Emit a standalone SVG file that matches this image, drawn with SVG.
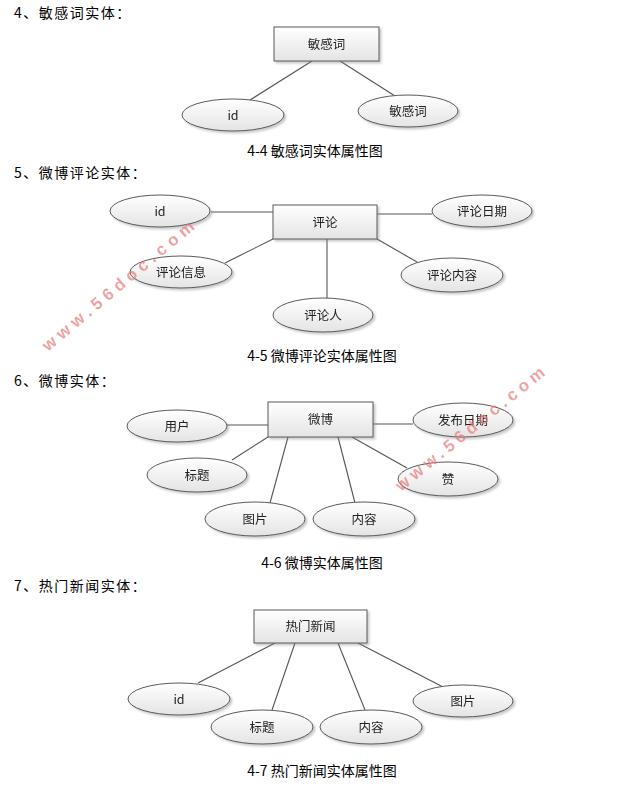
<svg xmlns="http://www.w3.org/2000/svg" width="618" height="790" viewBox="0 0 618 790">
<style>
.bg{fill:#ffffff}
.ent{fill:url(#gr);stroke:#5a5a5a;stroke-width:1}
.att{fill:url(#gr);stroke:#5a5a5a;stroke-width:1}
.lbl{font-family:"Noto Sans CJK SC","Liberation Sans",sans-serif;font-size:12.5px;fill:#222;text-anchor:middle}
.ttl{font-family:"Noto Sans CJK SC","Liberation Sans",sans-serif;font-size:14px;fill:#000;letter-spacing:1.5px}
.cap{font-family:"Noto Sans CJK SC","Liberation Sans",sans-serif;font-size:14px;fill:#000;text-anchor:middle}
.con line{stroke:#555;stroke-width:1.1}
.wm{font-family:"Liberation Sans",sans-serif;font-weight:bold;font-size:17px;fill:#e87b7b;opacity:0.7}
</style>
<defs>
<linearGradient id="gr" x1="0" y1="0" x2="0" y2="1">
<stop offset="0" stop-color="#ffffff"/>
<stop offset="1" stop-color="#e4e4e4"/>
</linearGradient>
<filter id="sh" x="-10%" y="-10%" width="130%" height="140%">
<feDropShadow dx="2" dy="2" stdDeviation="1.2" flood-color="#888" flood-opacity="0.45"/>
</filter>
</defs>
<rect class="bg" x="0" y="0" width="618" height="790"/>

<!-- titles and captions -->
<text class="ttl" x="14" y="18">4、敏感词实体：</text>
<text class="cap" x="315" y="156">4-4 敏感词实体属性图</text>
<text class="ttl" x="14" y="178">5、微博评论实体：</text>
<text class="cap" x="322" y="361">4-5 微博评论实体属性图</text>
<text class="ttl" x="14" y="386">6、微博实体：</text>
<text class="cap" x="322" y="568">4-6 微博实体属性图</text>
<text class="ttl" x="14" y="591">7、热门新闻实体：</text>
<text class="cap" x="322" y="776">4-7 热门新闻实体属性图</text>

<!-- connectors -->
<g id="connectors" class="con">
<line x1="312" y1="61" x2="250" y2="100"/>
<line x1="340" y1="61" x2="395" y2="96"/>

<line x1="211" y1="212" x2="273" y2="212"/>
<line x1="377" y1="214" x2="432" y2="214"/>
<line x1="273" y1="239" x2="225" y2="263"/>
<line x1="377" y1="239" x2="417" y2="262"/>
<line x1="327" y1="239" x2="327" y2="298"/>

<line x1="227" y1="425" x2="268" y2="425"/>
<line x1="373" y1="424" x2="413" y2="424"/>
<line x1="268" y1="437" x2="232" y2="460"/>
<line x1="288" y1="437" x2="270" y2="503"/>
<line x1="338" y1="437" x2="355" y2="503"/>
<line x1="352" y1="437" x2="407" y2="468"/>

<line x1="275" y1="643" x2="198" y2="683"/>
<line x1="295" y1="643" x2="272" y2="710"/>
<line x1="338" y1="643" x2="365" y2="710"/>
<line x1="358" y1="643" x2="443" y2="687"/>
</g>

<!-- diagram 4-4 -->
<g id="e_mgc" filter="url(#sh)"><rect class="ent" x="274" y="27" width="105" height="34"/><text class="lbl" x="326.5" y="48.5">敏感词</text></g>
<g id="a_mgc_id" filter="url(#sh)"><ellipse class="att" cx="233" cy="115" rx="51" ry="16"/><text class="lbl" x="233" y="119.5">id</text></g>
<g id="a_mgc_word" filter="url(#sh)"><ellipse class="att" cx="408" cy="111" rx="50" ry="16"/><text class="lbl" x="408" y="115.5">敏感词</text></g>

<!-- diagram 4-5 -->
<g id="e_pl" filter="url(#sh)"><rect class="ent" x="273" y="205" width="104" height="34"/><text class="lbl" x="325" y="226.5">评论</text></g>
<g id="a_pl_id" filter="url(#sh)"><ellipse class="att" cx="160" cy="211" rx="50" ry="16"/><text class="lbl" x="160" y="215.5">id</text></g>
<g id="a_pl_date" filter="url(#sh)"><ellipse class="att" cx="482" cy="211" rx="50" ry="16"/><text class="lbl" x="482" y="215.5">评论日期</text></g>
<g id="a_pl_info" filter="url(#sh)"><ellipse class="att" cx="181" cy="272" rx="51" ry="16"/><text class="lbl" x="181" y="276.5">评论信息</text></g>
<g id="a_pl_content" filter="url(#sh)"><ellipse class="att" cx="452" cy="275" rx="51" ry="17"/><text class="lbl" x="452" y="279.5">评论内容</text></g>
<g id="a_pl_user" filter="url(#sh)"><ellipse class="att" cx="323" cy="315" rx="50" ry="17"/><text class="lbl" x="323" y="319.5">评论人</text></g>

<!-- diagram 4-6 -->
<g id="e_wb" filter="url(#sh)"><rect class="ent" x="268" y="402" width="105" height="35"/><text class="lbl" x="320.5" y="424">微博</text></g>
<g id="a_wb_user" filter="url(#sh)"><ellipse class="att" cx="177" cy="426" rx="50" ry="16"/><text class="lbl" x="177" y="430.5">用户</text></g>
<g id="a_wb_date" filter="url(#sh)"><ellipse class="att" cx="463" cy="420" rx="50" ry="17"/><text class="lbl" x="463" y="424.5">发布日期</text></g>
<g id="a_wb_title" filter="url(#sh)"><ellipse class="att" cx="197" cy="475" rx="50" ry="17"/><text class="lbl" x="197" y="479.5">标题</text></g>
<g id="a_wb_like" filter="url(#sh)"><ellipse class="att" cx="448" cy="479" rx="50" ry="17"/><text class="lbl" x="448" y="483.5">赞</text></g>
<g id="a_wb_pic" filter="url(#sh)"><ellipse class="att" cx="255" cy="519" rx="50" ry="17"/><text class="lbl" x="255" y="523.5">图片</text></g>
<g id="a_wb_content" filter="url(#sh)"><ellipse class="att" cx="364" cy="519" rx="51" ry="17"/><text class="lbl" x="364" y="523.5">内容</text></g>

<!-- diagram 4-7 -->
<g id="e_news" filter="url(#sh)"><rect class="ent" x="254" y="610" width="113" height="33"/><text class="lbl" x="310.5" y="631">热门新闻</text></g>
<g id="a_news_id" filter="url(#sh)"><ellipse class="att" cx="179" cy="699" rx="51" ry="16"/><text class="lbl" x="179" y="703.5">id</text></g>
<g id="a_news_title" filter="url(#sh)"><ellipse class="att" cx="262" cy="727" rx="51" ry="17"/><text class="lbl" x="262" y="731.5">标题</text></g>
<g id="a_news_content" filter="url(#sh)"><ellipse class="att" cx="371" cy="727" rx="51" ry="17"/><text class="lbl" x="371" y="731.5">内容</text></g>
<g id="a_news_pic" filter="url(#sh)"><ellipse class="att" cx="463" cy="701" rx="50" ry="16"/><text class="lbl" x="463" y="705.5">图片</text></g>

<!-- watermarks -->
<text class="wm" transform="translate(48,352) rotate(-40)" letter-spacing="5">www.56doc.com</text>
<text class="wm" transform="translate(401,492) rotate(-39)" letter-spacing="4.5">www.56doc.com</text>
</svg>
